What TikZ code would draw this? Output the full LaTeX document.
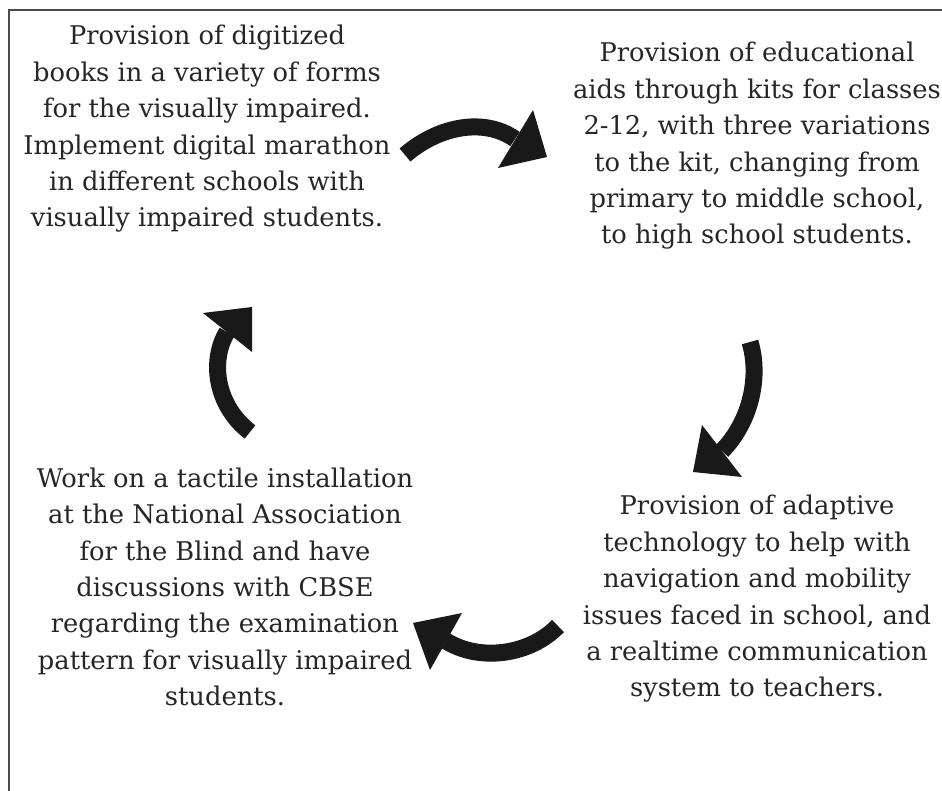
\documentclass[tikz,border=0pt]{standalone}
\usepackage{fontspec}
\setmainfont{DejaVu Serif}
\begin{document}
\begin{tikzpicture}[x=0.75pt,y=-0.75pt,
  txt/.style={align=center,inner sep=0pt,text=black!85,font=\fontsize{19.3}{27.3}\selectfont},
  shaft/.style={line width=12.75pt,draw=black!90,line cap=butt},
  head/.style={fill=black!90,draw=none},
  frame/.style={draw=black!70,line width=1.6pt}]
\useasboundingbox (0,0) rectangle (942,791);
\draw[frame] (9,791) -- (9,10) -- (942,10);

\node[txt] (tl) at (207,129) {Provision of digitized\\books in a variety of forms\\for the visually impaired.\\Implement digital marathon\\in different schools with\\visually impaired students.};
\node[txt] (tr) at (757,146) {Provision of educational\\aids through kits for classes\\2-12, with three variations\\to the kit, changing from\\primary to middle school,\\to high school students.};
\node[txt] (br) at (757,599) {Provision of adaptive\\technology to help with\\navigation and mobility\\issues faced in school, and\\a realtime communication\\system to teachers.};
\node[txt] (bl) at (225,587) {Work on a tactile installation\\at the National Association\\for the Blind and have\\discussions with CBSE\\regarding the examination\\pattern for visually impaired\\students.};

% arrow 1 (tl -> tr)
\coordinate (a1s) at (405,155);
\coordinate (a1m) at (515,139);
\coordinate (a1t) at (547,157);
\draw[shaft] (a1s) .. controls (440,125) and (485,118) .. (a1m);
\fill[head] (533,110) -- (a1t) -- (498,168) -- cycle;

% arrow 2 (tr -> br)
\coordinate (a2s) at (750,342);
\coordinate (a2m) at (722,451);
\coordinate (a2t) at (693,472);
\draw[shaft] (a2s) .. controls (760,375) and (752,420) .. (a2m);
\fill[head] (702,425) -- (a2t) -- (742,477) -- cycle;

% arrow 3 (br -> bl)
\coordinate (a3s) at (558,626);
\coordinate (a3m) at (446,641);
\coordinate (a3t) at (413,623);
\draw[shaft] (a3s) .. controls (530,655) and (480,662) .. (a3m);
\fill[head] (462,613) -- (a3t) -- (430,670) -- cycle;

% arrow 4 (bl -> tl)
\coordinate (a4s) at (250,432);
\coordinate (a4m) at (227,332);
\coordinate (a4t) at (252,307);
\draw[shaft] (a4s) .. controls (215,405) and (210,360) .. (a4m);
\fill[head] (203,313) -- (a4t) -- (252,352) -- cycle;
\end{tikzpicture}
\end{document}
